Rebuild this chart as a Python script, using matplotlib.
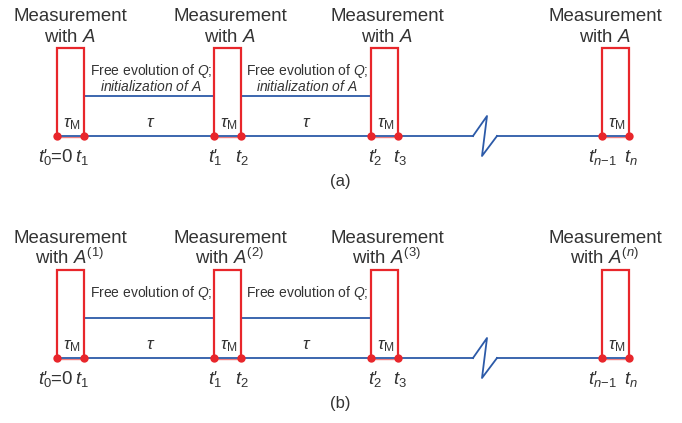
import matplotlib
matplotlib.use("Agg")
import matplotlib.pyplot as plt

plt.rcParams['font.family'] = ['Liberation Sans', 'DejaVu Sans']
plt.rcParams['mathtext.fontset'] = 'custom'
plt.rcParams['mathtext.rm'] = 'Liberation Sans'
plt.rcParams['mathtext.it'] = 'Liberation Sans:italic'
plt.rcParams['mathtext.bf'] = 'Liberation Sans:bold'

# ---- diagram data (timeline in pixel units) ----
meas_start = [57, 214, 371, 602]          # t'_k positions
meas_end = [84, 241, 398, 629]            # t_{k+1} positions
label_centers = [70, 230, 387, 605]
free_centers = [151, 307]
t_labels = [r"$t_{0}$=0", r"$t_{1}$", r"$t_{1}$", r"$t_{2}$",
            r"$t_{2}$", r"$t_{3}$", r"$t_{n\mathrm{-}1}$", r"$t_{n}$"]
t_primed = [True, False, True, False, True, False, True, False]
# left edge for primed labels, centre for the others
t_label_x = [38, 82, 208, 242, 368, 400, 588, 631]
with_a = [r"with $A$", r"with $A$", r"with $A$", r"with $A$"]
with_b = [r"with $A^{(1)}$", r"with $A^{(2)}$", r"with $A^{(3)}$", r"with $A^{(n)}$"]
free_b = ["Free evolution of $Q$;"] * 2
panel_labels = ["(a)", "(b)"]
break_x = [473, 487, 482, 497]
break_dy = [0, -20, 20, 0]

RED = '#e8262b'
BLUE = '#2c5aa8'
TXT = '#333333'

fig = plt.figure(figsize=(6.82, 4.23), dpi=100)
ax = fig.add_axes([0, 0, 1, 1])
ax.set_xlim(0, 682)
ax.set_ylim(423, 0)
ax.axis('off')


def panel(off, withs, frees, plabel, two_line):
    base = 136 + off
    top = 48 + off
    upper = 96 + off
    ax.plot([meas_start[0], break_x[0]], [base, base], color=BLUE, lw=1.3, zorder=2)
    ax.plot(break_x, [base + d for d in break_dy], color=BLUE, lw=1.3, zorder=2)
    ax.plot([break_x[-1], meas_end[-1]], [base, base], color=BLUE, lw=1.3, zorder=2)
    for i in range(2):
        ax.plot([meas_end[i], meas_start[i + 1]], [upper, upper], color=BLUE, lw=1.3, zorder=2)
    for i, (s, e) in enumerate(zip(meas_start, meas_end)):
        ax.plot([s, s, e, e], [base, top, top, base], color=RED, lw=1.6, zorder=3,
                solid_joinstyle='miter')
        ax.plot([s, e], [base + 1.5, base + 1.5], color='#f08080', lw=1.0, zorder=1)
        ax.plot([s, e], [base, base], 'o', color=RED, ms=6, zorder=4, mec='none')
        ax.text(label_centers[i], 21 + off, "Measurement", ha='center', va='baseline',
                fontsize=13.4, color=TXT)
        ax.text(label_centers[i], 42 + off, withs[i], ha='center', va='baseline',
                fontsize=13.4, color=TXT)
        ax.text((s + e) / 2 + 1, 127 + off, r"$\tau_{\mathrm{M}}$", ha='center',
                va='baseline', fontsize=12.5, color=TXT)
    for i in range(2):
        ax.text(free_centers[i], 127 + off, r"$\tau$", ha='center', va='baseline',
                fontsize=12.5, color=TXT)
        if two_line:
            ax.text(free_centers[i], 75 + off, "Free evolution of $Q$;",
                    ha='center', va='baseline', fontsize=10, color=TXT)
            ax.text(free_centers[i], 91 + off, "$initialization\\ of\\ A$",
                    ha='center', va='baseline', fontsize=10, color=TXT)
        else:
            ax.text(free_centers[i], 75 + off, frees[i],
                    ha='center', va='baseline', fontsize=10, color=TXT)
    for lab, x, pr in zip(t_labels, t_label_x, t_primed):
        if pr:
            ax.text(x, 162 + off, lab, ha='left', va='baseline', fontsize=13.4, color=TXT)
            ax.text(x + 4.5, 161 + off, "'", ha='left', va='baseline', fontsize=12,
                    style='italic', color=TXT)
        else:
            ax.text(x, 162 + off, lab, ha='center', va='baseline', fontsize=13.4, color=TXT)
    ax.text(340, 186 + off, plabel, ha='center', va='baseline', fontsize=12, color=TXT)


panel(0, with_a, None, panel_labels[0], True)
panel(222, with_b, free_b, panel_labels[1], False)

fig.savefig("out.png", dpi=100)
